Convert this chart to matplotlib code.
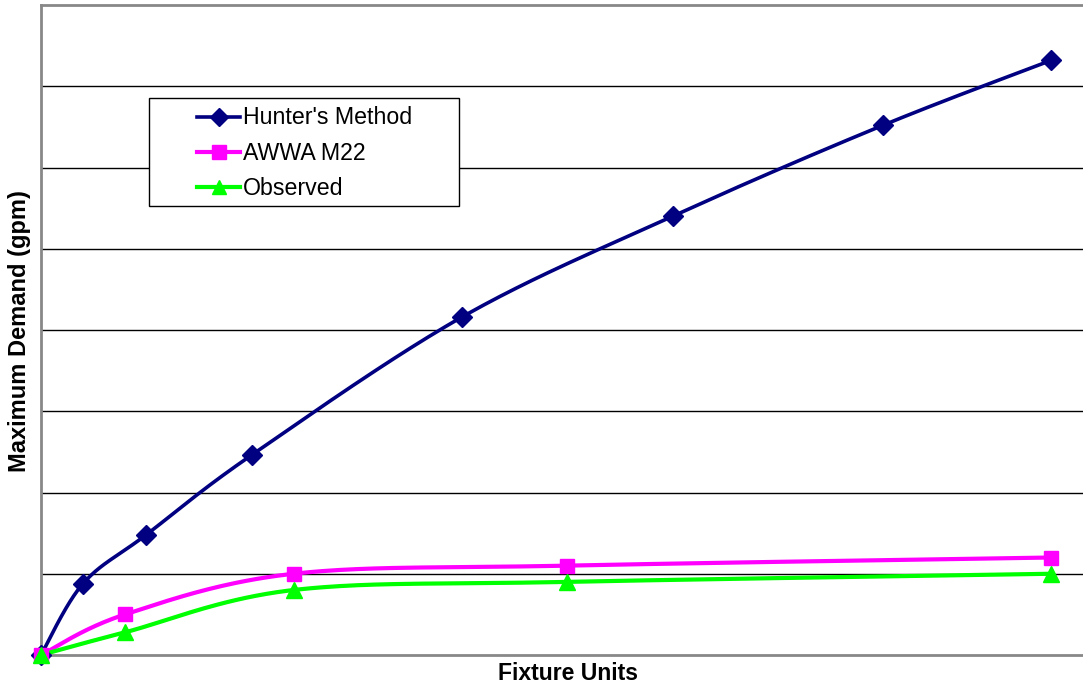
import numpy as np
import matplotlib
matplotlib.use("Agg")
import matplotlib.pyplot as plt
from matplotlib.lines import Line2D
from matplotlib.patches import Rectangle

plt.rcParams['font.family'] = ['Liberation Sans', 'DejaVu Sans']

# Fixture units and maximum demand (gpm)
hunter_fu = [0, 100, 250, 500, 1000, 1500, 2000, 2400]
hunter_gpm = [0, 44, 74, 123, 208, 270, 326, 366]

awwa_fu = [0, 200, 600, 1250, 2400]
awwa_gpm = [0, 25, 50, 55, 60]

observed_fu = [0, 200, 600, 1250, 2400]
observed_gpm = [0, 14, 40, 45, 50]

XMAX = 2475
YMAX = 400
YSTEP = 50

W, H = 1083, 687
fig = plt.figure(figsize=(W / 100, H / 100), dpi=100)
left, right, top, bottom = 41, 1083, 5, 655
ax = fig.add_axes([left / W, (H - bottom) / H, (right - left) / W, (bottom - top) / H])
ax.set_xlim(0, XMAX)
ax.set_ylim(0, YMAX)

# pixel scale used to smooth curves in screen space
sx = (right - left) / XMAX
sy = (bottom - top) / YMAX


def smooth(xs, ys, n=40):
    """Catmull-Rom style Bezier smoothing through all points."""
    p = np.column_stack([np.asarray(xs, float) * sx, np.asarray(ys, float) * sy])
    out = [p[0]]
    m = len(p)
    for i in range(m - 1):
        p0 = p[i - 1] if i > 0 else p[i]
        p1, p2 = p[i], p[i + 1]
        p3 = p[i + 2] if i + 2 < m else p[i + 1]
        c1 = p1 + (p2 - p0) / 6.0
        c2 = p2 - (p3 - p1) / 6.0
        t = np.linspace(0, 1, n)[1:, None]
        seg = ((1 - t) ** 3) * p1 + 3 * ((1 - t) ** 2) * t * c1 + 3 * (1 - t) * t ** 2 * c2 + t ** 3 * p2
        out.extend(seg)
    out = np.array(out)
    return out[:, 0] / sx, out[:, 1] / sy


# gridlines
for yv in np.arange(YSTEP, YMAX, YSTEP):
    ax.axhline(yv, color='black', lw=1.0, zorder=1)

series = [
    (hunter_fu, hunter_gpm, '#000080', 'D', 10, 2.6, "Hunter's Method"),
    (awwa_fu, awwa_gpm, '#FF00FF', 's', 10.5, 3.0, 'AWWA M22'),
    (observed_fu, observed_gpm, '#00FF00', '^', 11.5, 3.0, 'Observed'),
]
for xs, ys, col, mk, ms, lw, lab in series:
    cx, cy = smooth(xs, ys)
    ax.plot(cx, cy, color=col, lw=lw, zorder=3, solid_capstyle='round')
    ax.plot(xs, ys, linestyle='none', marker=mk, ms=ms, color=col, mec=col, zorder=4, clip_on=False)

for s in ['left', 'top', 'bottom']:
    ax.spines[s].set_color('#888888')
    ax.spines[s].set_linewidth(2)
ax.spines['right'].set_visible(False)
ax.set_xticks([])
ax.set_yticks([])

# legend box drawn in figure pixel coordinates
def fx(px):
    return px / W


def fy(py):
    return 1 - py / H


fig.patches.append(Rectangle((fx(149), fy(206)), fx(459) - fx(149), fy(98) - fy(206),
                             transform=fig.transFigure, facecolor='white', edgecolor='black',
                             lw=1.0, zorder=5))
rows = [117, 152, 187]
for (xs, ys, col, mk, ms, lw, lab), ry in zip(series, rows):
    fig.lines.append(Line2D([fx(197), fx(240)], [fy(ry), fy(ry)], transform=fig.transFigure,
                            color=col, lw=lw, zorder=6))
    fig.lines.append(Line2D([fx(218.5)], [fy(ry)], transform=fig.transFigure, marker=mk,
                            ms=ms - 1, color=col, mec=col, linestyle='none', zorder=7))
    fig.text(fx(243), fy(ry + 1), lab, ha='left', va='center', fontsize=16.7, zorder=7)

fig.text(568 / W, 1 - 674 / H, 'Fixture Units', ha='center', va='center', fontsize=16.6, fontweight='bold')
fig.text(20 / W, 1 - 331 / H, 'Maximum Demand (gpm)', ha='center', va='center', rotation=90,
         fontsize=17, fontweight='bold')

fig.savefig('out.png', dpi=100)
